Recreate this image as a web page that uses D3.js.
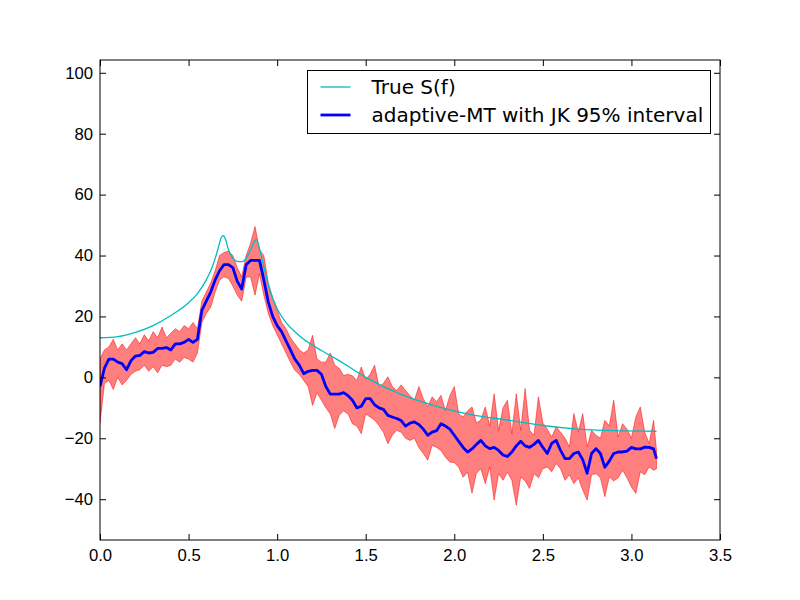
<!DOCTYPE html>
<html>
<head>
<meta charset="utf-8">
<script src="https://cdn.jsdelivr.net/npm/d3@7"></script>
<style>
  body { margin: 0; background: #fff; }
  svg { display: block; font-family: "DejaVu Sans", sans-serif; }
</style>
</head>
<body>
<div class="container"></div>
<script>
// multitaper estimate on a 0.025 rad grid (last sample at pi), dB
var freqStep = 0.025

var mtMean = [
  -3, 3, 6, 6, 5, 4.5, 2.5, 5.5, 7, 7.2,
  8.5, 8, 8.2, 9.5, 9.5, 9.8, 9, 11, 11, 11.5,
  12.5, 11.5, 12.5, 22, 25, 28, 32, 35, 37, 37,
  36, 31.5, 29, 37, 38.4, 38.4, 38.4, 32, 24.7, 20,
  17, 15, 12, 9, 6, 4, 1.2, 2, 2.3, 2.3,
  1, -3, -5.5, -5.5, -5.5, -5, -6, -7.5, -10, -9.5,
  -7, -7, -9, -10, -10.5, -12.5, -13, -13.5, -14.2, -16,
  -15, -14.6, -15.5, -17, -19, -18, -17.5, -15.2, -16, -17,
  -19, -21, -23, -24.5, -23.5, -22, -20.7, -22.5, -23.4, -23,
  -24, -25.5, -26, -24.5, -22.5, -21, -22.5, -23, -22, -20.7,
  -23, -25, -21.7, -20.7, -24, -26.7, -26.7, -25, -24.5, -27,
  -31.5, -25, -23.4, -25, -29.5, -27.5, -25, -24.5, -24.5, -24.2,
  -23, -23.5, -23.5, -22.9, -23, -23.5, -26.7
]

var mtUpper = [
  6, 9, 10, 12.5, 9, 11, 9, 11, 13, 11,
  14, 12, 15, 13, 16.5, 13, 14.5, 16, 15, 17,
  16, 18, 16, 25, 28, 31, 35, 40, 41, 41.5,
  40, 36, 33, 40, 44, 49.5, 42, 40, 31, 26,
  22, 18, 16, 13, 11, 9, 8, 9, 13.8, 6,
  5, 5, 8, 4, 3, 0.6, 1, 0.5, -1, 3.4,
  -0.6, 1, 4, -3, -2, 0.2, -3, -4.3, -2.5, -4.3,
  -6, -7.5, -3, -7, -9.7, -6.4, -8, -5.9, -11, -6,
  -3, -12, -13, -11, -9.7, -15, -14, -9.7, -16, -5.4,
  -17.4, -10, -7.5, -18.5, -5.4, -17.4, -3.7, -17.4, -19, -6.4,
  -15, -17, -19.6, -16.3, -18, -20, -22.8, -11.9, -18, -11.9,
  -22.8, -17.4, -19, -20, -14.1, -16, -7.5, -19.6, -15.2, -17,
  -20, -13, -9.7, -18, -21.7, -14.1, -24
]

var mtLower = [
  -15, -2, -1, -4, 0, -2.5, -1, 1, 2, 2.5,
  4, 2, 3.5, 1.5, 4, 3.5, 4, 6, 5, 6.5,
  6, 5, 8, 18, 21, 23, 28, 32, 33, 32.5,
  30, 27, 25, 32.9, 33, 27, 34, 27, 21, 17,
  14, 11, 8, 5, 2.3, 1, -1, -3, -9.2, -5,
  -7.5, -10, -12, -16.8, -12.5, -11, -12, -15.2, -16, -18.5,
  -12, -13, -14, -15.8, -18, -21.8, -19, -17.4, -18, -20,
  -20.7, -20, -23, -25, -27.2, -22.3, -23, -24, -26.2, -27.8,
  -28, -29.5, -32.8, -31.1, -38, -31.5, -30, -34.9, -29.4, -40.3,
  -31.6, -33.8, -31.1, -33.8, -42, -32.7, -34, -36.5, -31.6, -33,
  -30, -29.4, -31, -28.3, -30, -33.8, -32, -34.9, -33, -37,
  -40.3, -32, -31.6, -33, -39.2, -32.7, -34, -33, -30.5, -33,
  -36, -38.1, -31, -32, -29.4, -30.5, -30
]

// true spectrum, read at irregular frequencies
var trueFreq = [0, 0.1, 0.2, 0.3, 0.4, 0.5, 0.55, 0.6, 0.625, 0.65,
  0.67, 0.685, 0.697, 0.71, 0.725, 0.745, 0.77, 0.8, 0.83, 0.855,
  0.87, 0.882, 0.895, 0.91, 0.93, 0.96, 1.0, 1.05, 1.1, 1.15,
  1.25, 1.35, 1.5, 1.7, 1.9, 2.1, 2.3, 2.5, 2.7, 2.9, Math.PI]
var trueS = [13, 13.4, 14.8, 17, 20.3, 24.5, 27.5, 32, 35, 39,
  43, 46, 46.5, 45, 42, 39.5, 38.2, 38, 39.5, 42.5,
  44.5, 45.3, 43.5, 40, 35, 28.5, 22.5, 18, 15, 12.5,
  8.8, 5.5, 0, -5.6, -9.5, -12.3, -14, -15.8, -17, -17.5, -17.7]

var xTicks = [0, 0.5, 1, 1.5, 2, 2.5, 3, 3.5]
var yTicks = [-40, -20, 0, 20, 40, 60, 80, 100]

var legendLabels = ['True S(f)', 'adaptive-MT with JK 95% interval']

var W = 800, H = 600
var margin = {left: 100, top: 60, right: 80, bottom: 60}
var w = W - margin.left - margin.right
var h = H - margin.top - margin.bottom

var est = mtMean.map(function(d, i) {
  var f = i < mtMean.length - 1 ? i * freqStep : Math.PI
  return {f: f, m: d, lo: mtLower[i], hi: mtUpper[i]}
})
var truth = trueFreq.map(function(f, i) { return {f: f, s: trueS[i]} })

var x = d3.scaleLinear().domain([0, 3.5]).range([0, w])
var y = d3.scaleLinear().domain([-53.4, 104.2]).range([h, 0])

var svg = d3.select('.container').append('svg')
    .attr('width', W)
    .attr('height', H)

var g = svg.append('g')
    .attr('transform', 'translate(' + margin.left + ',' + margin.top + ')')

g.append('clipPath').attr('id', 'clip')
  .append('rect').attr('width', w).attr('height', h)

var plot = g.append('g').attr('clip-path', 'url(#clip)')

plot.append('path')
    .datum(est)
    .attr('d', d3.area()
      .x(function(d) { return x(d.f) })
      .y0(function(d) { return y(d.lo) })
      .y1(function(d) { return y(d.hi) }))
    .attr('fill', '#ff0000')
    .attr('fill-opacity', 0.5)
    .attr('stroke', '#ff0000')
    .attr('stroke-opacity', 0.5)
    .attr('stroke-width', 1)

plot.append('path')
    .datum(truth)
    .attr('d', d3.line()
      .x(function(d) { return x(d.f) })
      .y(function(d) { return y(d.s) })
      .curve(d3.curveMonotoneX))
    .attr('fill', 'none')
    .attr('stroke', '#00bfbf')
    .attr('stroke-width', 1.3)

plot.append('path')
    .datum(est)
    .attr('d', d3.line()
      .x(function(d) { return x(d.f) })
      .y(function(d) { return y(d.m) }))
    .attr('fill', 'none')
    .attr('stroke', '#0000ff')
    .attr('stroke-width', 2.8)
    .attr('stroke-linejoin', 'round')

// axes, matplotlib classic: ticks inside on all four sides
function styleAxis(sel) {
  sel.select('.domain').remove()
  sel.selectAll('line').attr('stroke', '#000')
  sel.selectAll('text').attr('fill', '#000').style('font-size', '16.7px')
}

g.append('g')
    .attr('transform', 'translate(0,' + h + ')')
    .call(d3.axisBottom(x).tickValues(xTicks).tickFormat(d3.format('.1f'))
      .tickSizeInner(-6).tickSizeOuter(0).tickPadding(9))
    .call(styleAxis)

g.append('g')
    .call(d3.axisTop(x).tickValues(xTicks).tickFormat('')
      .tickSizeInner(-6).tickSizeOuter(0))
    .call(styleAxis)

g.append('g')
    .call(d3.axisLeft(y).tickValues(yTicks).tickFormat(d3.format('d'))
      .tickSizeInner(-6).tickSizeOuter(0).tickPadding(7))
    .call(styleAxis)

g.append('g')
    .attr('transform', 'translate(' + w + ',0)')
    .call(d3.axisRight(y).tickValues(yTicks).tickFormat('')
      .tickSizeInner(-6).tickSizeOuter(0))
    .call(styleAxis)

g.append('rect')
    .attr('width', w)
    .attr('height', h)
    .attr('fill', 'none')
    .attr('stroke', '#000')
    .attr('stroke-width', 1)

// legend
var legend = svg.append('g').attr('transform', 'translate(307.5,70.5)')
legend.append('rect')
    .attr('width', 403)
    .attr('height', 63)
    .attr('fill', '#fff')
    .attr('stroke', '#000')
    .attr('stroke-width', 1)

var legendStyles = [
  {color: '#00bfbf', width: 1.3},
  {color: '#0000ff', width: 2.8}
]

var items = legend.selectAll('.item')
  .data(legendLabels)
  .enter().append('g')
    .attr('class', 'item')
    .attr('transform', function(d, i) { return 'translate(0,' + (16.5 + i * 28) + ')' })

items.append('line')
    .attr('x1', 13)
    .attr('x2', 43)
    .attr('stroke', function(d, i) { return legendStyles[i].color })
    .attr('stroke-width', function(d, i) { return legendStyles[i].width })

items.append('text')
    .attr('x', 64)
    .attr('dy', '0.36em')
    .style('font-size', '20px')
    .text(function(d) { return d })
</script>
</body>
</html>
